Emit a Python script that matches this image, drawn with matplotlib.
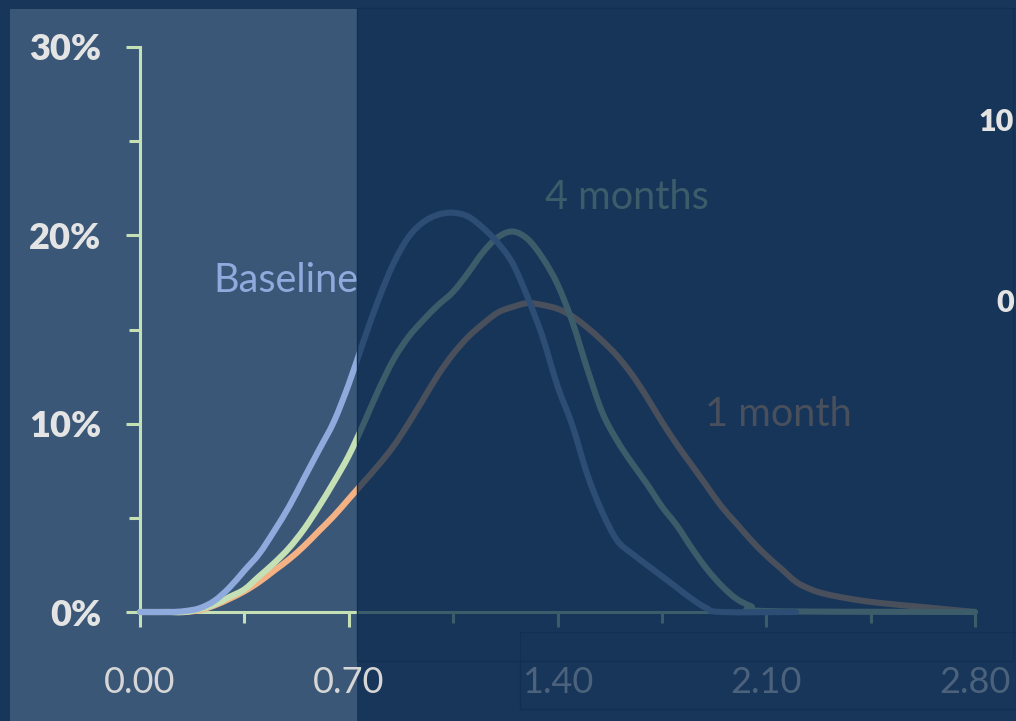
import matplotlib
matplotlib.use("Agg")
import matplotlib.pyplot as plt
from matplotlib.patches import Rectangle, PathPatch
from matplotlib.path import Path
from matplotlib.ticker import FixedLocator, FuncFormatter

# ---------------- data ----------------
baseline_x = [0.00, 0.10, 0.15, 0.20, 0.25, 0.30, 0.35, 0.40, 0.45, 0.50, 0.55, 0.60, 0.65,
              0.70, 0.75, 0.80, 0.85, 0.90, 0.95, 1.00, 1.05, 1.10, 1.15, 1.20, 1.25, 1.30,
              1.35, 1.40, 1.45, 1.50, 1.55, 1.60, 1.65, 1.70, 1.75, 1.80, 1.85, 1.90, 1.95, 2.20]
baseline_y = [0.0, 0.0, 0.05, 0.2, 0.6, 1.3, 2.2, 3.1, 4.3, 5.6, 7.1, 8.6, 10.1,
              12.1, 14.4, 16.6, 18.5, 19.9, 20.7, 21.1, 21.2, 21.0, 20.4, 19.6, 18.5, 16.7,
              14.6, 12.0, 9.9, 7.3, 5.3, 3.8, 3.1, 2.5, 1.9, 1.3, 0.7, 0.2, 0.0, 0.0]

m4_x = [0.00, 0.10, 0.15, 0.20, 0.25, 0.30, 0.35, 0.40, 0.45, 0.50, 0.55, 0.60, 0.65,
        0.70, 0.75, 0.80, 0.85, 0.90, 0.95, 1.00, 1.05, 1.10, 1.15, 1.20, 1.25, 1.30,
        1.35, 1.40, 1.45, 1.50, 1.55, 1.60, 1.65, 1.70, 1.75, 1.80, 1.85, 1.90, 1.95,
        2.00, 2.05, 2.10, 2.80]
m4_y = [0.0, 0.0, 0.0, 0.15, 0.4, 0.8, 1.2, 1.9, 2.6, 3.4, 4.4, 5.6, 6.9,
        8.3, 10.0, 11.8, 13.4, 14.6, 15.5, 16.3, 17.0, 18.0, 19.1, 19.9, 20.2, 19.8,
        18.8, 17.4, 15.4, 12.9, 10.6, 9.1, 7.9, 6.8, 5.6, 4.6, 3.4, 2.3, 1.4,
        0.7, 0.3, 0.05, 0.0]

m1_x = [0.00, 0.10, 0.15, 0.20, 0.25, 0.30, 0.35, 0.40, 0.45, 0.50, 0.55, 0.60, 0.65,
        0.70, 0.75, 0.80, 0.85, 0.90, 0.95, 1.00, 1.05, 1.10, 1.15, 1.20, 1.25, 1.30,
        1.35, 1.40, 1.45, 1.50, 1.55, 1.60, 1.65, 1.70, 1.75, 1.80, 1.85, 1.90, 1.95,
        2.00, 2.05, 2.10, 2.15, 2.20, 2.25, 2.30, 2.40, 2.50, 2.60, 2.70, 2.80]
m1_y = [0.0, 0.0, 0.0, 0.1, 0.35, 0.7, 1.1, 1.6, 2.2, 2.8, 3.5, 4.3, 5.1,
        6.0, 6.9, 7.8, 8.8, 10.0, 11.3, 12.6, 13.7, 14.6, 15.3, 15.9, 16.2, 16.4,
        16.3, 16.1, 15.7, 15.1, 14.4, 13.6, 12.6, 11.4, 10.1, 8.9, 7.8, 6.7, 5.6,
        4.7, 3.8, 3.0, 2.3, 1.6, 1.2, 0.95, 0.65, 0.45, 0.3, 0.15, 0.0]

series_names = ["Baseline", "4 months", "1 month"]
x_major = [0.00, 0.70, 1.40, 2.10, 2.80]
x_minor = [0.35, 1.05, 1.75, 2.45]
y_major = [0, 10, 20, 30]
y_minor = [5, 15, 25]
edge_labels = ["10", "0"]

# ---------------- style ----------------
FONT = ["Lato", "DejaVu Sans"]
plt.rcParams["font.family"] = FONT
W, H = 1016, 721
BG = "#17365A"
LIGHT = "#3A5778"
BLUE = "#8FAADC"
GREEN = "#C5E0B4"
ORANGE = "#F4B183"
AXIS = "#C5E0B4"

fig = plt.figure(figsize=(W / 100, H / 100), dpi=100, facecolor=BG)

def fx(px):
    return px / W

def fy(py):
    return 1 - py / H

# light slide panel (underneath everything)
fig.add_artist(Rectangle((fx(10), fy(661)), fx(W - 10), (661 - 9) / H,
                         transform=fig.transFigure, fc=LIGHT, ec="none", zorder=-10))
fig.add_artist(Rectangle((fx(10), 0), fx(347), (H - 661) / H + 0.001,
                         transform=fig.transFigure, fc=LIGHT, ec="none", zorder=-10))

ax = fig.add_axes([fx(140), fy(612), fx(975 - 140), (612 - 47) / H])
ax.set_facecolor("none")
ax.set_xlim(0, 2.8)
ax.set_ylim(0, 30)


def smooth_path(xs, ys):
    """Smoothed line (Catmull-Rom drawn as cubic Bezier) through the data points."""
    n = len(xs)
    verts = [(xs[0], ys[0])]
    codes = [Path.MOVETO]
    for i in range(n - 1):
        x0, y0 = (xs[i - 1], ys[i - 1]) if i > 0 else (xs[i], ys[i])
        x1, y1 = xs[i], ys[i]
        x2, y2 = xs[i + 1], ys[i + 1]
        x3, y3 = (xs[i + 2], ys[i + 2]) if i + 2 < n else (xs[i + 1], ys[i + 1])
        c1 = (x1 + (x2 - x0) / 6, y1 + (y2 - y0) / 6)
        c2 = (x2 - (x3 - x1) / 6, y2 - (y3 - y1) / 6)
        verts += [c1, c2, (x2, y2)]
        codes += [Path.CURVE4] * 3
    return Path(verts, codes)


lw = 4.4
for xs, ys, col, z in [(m1_x, m1_y, ORANGE, 3), (m4_x, m4_y, GREEN, 4),
                       (baseline_x, baseline_y, BLUE, 5)]:
    patch = PathPatch(smooth_path(xs, ys), fill=False, ec=col, lw=lw,
                      capstyle="round", joinstyle="round", zorder=z)
    patch.set_clip_on(False)
    ax.add_patch(patch)

for s in ["top", "right"]:
    ax.spines[s].set_visible(False)
for s in ["left", "bottom"]:
    ax.spines[s].set_color(AXIS)
    ax.spines[s].set_linewidth(2.2)
    ax.spines[s].set_zorder(2)

ax.xaxis.set_major_locator(FixedLocator(x_major))
ax.xaxis.set_minor_locator(FixedLocator(x_minor))
ax.yaxis.set_major_locator(FixedLocator(y_major))
ax.yaxis.set_minor_locator(FixedLocator(y_minor))
ax.xaxis.set_major_formatter(FuncFormatter(lambda v, p: f"{v:.2f}"))
ax.yaxis.set_major_formatter(FuncFormatter(lambda v, p: f"{v:.0f}%"))

ax.tick_params(axis="x", which="major", length=11, width=2.2, color=AXIS, pad=28,
               labelsize=26, labelcolor="#D6D6D6")
ax.tick_params(axis="x", which="minor", length=8, width=2.2, color=AXIS)
ax.tick_params(axis="y", which="major", length=10, width=2.2, color=AXIS, pad=18,
               labelsize=26, labelcolor="#E4E4E4")
ax.tick_params(axis="y", which="minor", length=8, width=2.2, color=AXIS)
for t in ax.get_yticklabels():
    t.set_fontweight("heavy")

# series labels
ax.text(0.245, 17.6, series_names[0], color=BLUE, fontsize=28.5, ha="left", va="center", zorder=6)
ax.text(1.358, 22.0, series_names[1], color=GREEN, fontsize=28.5, ha="left", va="center", zorder=6)
ax.text(1.895, 10.5, series_names[2], color=ORANGE, fontsize=28.5, ha="left", va="center", zorder=6)

# dark overlay over the right part of the slide
fig.add_artist(Rectangle((fx(357), fy(661)), fx(W - 357), (661 - 8) / H,
                         transform=fig.transFigure, fc="#08294E", alpha=0.72,
                         ec="none", zorder=20))
fig.add_artist(Rectangle((fx(357), fy(661)), fx(W - 357 - 3), (661 - 8) / H,
                         transform=fig.transFigure, fc="none", ec="#11304F",
                         lw=1.0, zorder=21))
# lower overlay box over the right tick labels
fig.add_artist(Rectangle((fx(520), fy(709)), fx(W - 520), (709 - 661) / H,
                         transform=fig.transFigure, fc=BG, alpha=0.72,
                         ec="none", zorder=20))
fig.add_artist(Rectangle((fx(520), fy(709)), fx(W - 520), (709 - 632) / H,
                         transform=fig.transFigure, fc="none", ec="#11304F",
                         lw=1.0, zorder=21))

# partially visible axis labels of a neighbouring chart (at the right edge)
fig.text(fx(1014), fy(122), edge_labels[0], color="#E4E4E4", fontsize=22, fontweight="heavy",
         ha="right", va="center", zorder=30)
fig.text(fx(1014), fy(303), edge_labels[1], color="#E4E4E4", fontsize=22, fontweight="heavy",
         ha="right", va="center", zorder=30)

fig.savefig("out.png", dpi=100, facecolor=BG)
